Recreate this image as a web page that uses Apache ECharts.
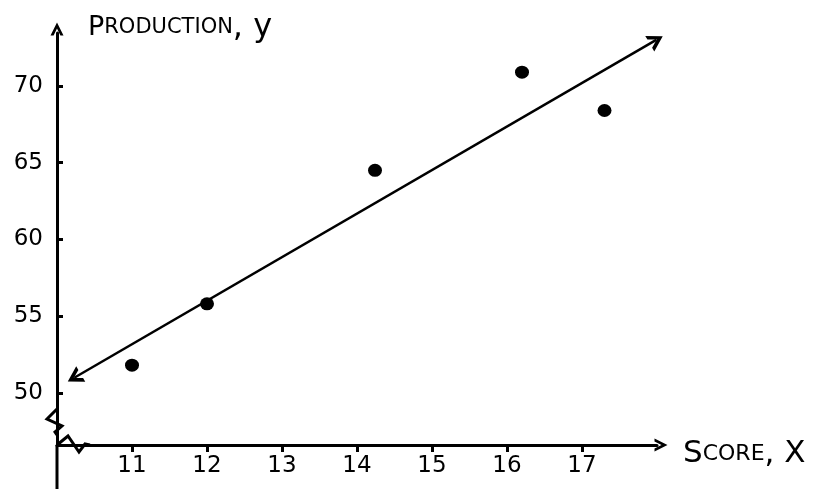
<!DOCTYPE html>
<html><head><meta charset="utf-8">
<script src="https://cdn.jsdelivr.net/npm/echarts@6/dist/echarts.min.js"></script>
<style>html,body{margin:0;padding:0;background:#fff}#c{width:816px;height:489px}</style>
</head><body><div id="c"></div>
<script>
// ---- data ----
const xTicks = [11, 12, 13, 14, 15, 16, 17];
const yTicks = [50, 55, 60, 65, 70];
const scores = [11.0, 12.0, 14.24, 16.2, 17.3];
const production = [51.8, 55.8, 64.5, 70.9, 68.4];
const fitStart = [10.23, 50.98];
const fitEnd = [17.99, 73.0];
const xRange = [10, 18];
const yRange = [46.6, 73.45];

const chevron = 'path://M0,10 L5,0 L10,10 L7.6,10 L5,4.6 L2.4,10 Z';
const FONT = 'DejaVu Sans';

const chart = echarts.init(document.getElementById('c'), null, {renderer: 'canvas'});
chart.setOption({
  backgroundColor: '#fff',
  animation: false,
  grid: {left: 57, top: 33, right: 159, bottom: 44, containLabel: false},
  xAxis: {
    type: 'value', min: xRange[0], max: xRange[1],
    splitLine: {show: false},
    axisLine: {show: true, lineStyle: {color: '#000', width: 3}, symbol: ['none', chevron], symbolSize: [15, 13], symbolOffset: [0, 4]},
    axisTick: {show: true, customValues: xTicks, length: 7, lineStyle: {color: '#000', width: 3}},
    axisLabel: {show: true, customValues: xTicks, margin: 10, color: '#000', fontFamily: FONT, fontSize: 23},
    name: '{b|S}{s|CORE}{b|, X}', nameLocation: 'end', nameGap: 26,
    nameTextStyle: {verticalAlign: 'middle', padding: [18, 0, 0, 0],
      rich: {b: {fontFamily: FONT, fontSize: 31, color: '#000'}, s: {fontFamily: FONT, fontSize: 22, color: '#000'}}}
  },
  yAxis: {
    type: 'value', min: yRange[0], max: yRange[1],
    splitLine: {show: false},
    axisLine: {show: true, lineStyle: {color: '#000', width: 3}, symbol: ['none', chevron], symbolSize: [13, 15], symbolOffset: [0, 4]},
    axisTick: {show: true, inside: true, customValues: yTicks, length: 6, lineStyle: {color: '#000', width: 3}},
    axisLabel: {show: true, customValues: yTicks, margin: 14, color: '#000', fontFamily: FONT, fontSize: 23},
    name: '{p|P}{s|RODUCTION}{y|, y}', nameLocation: 'end', nameGap: -11,
    nameTextStyle: {align: 'left', padding: [0, 0, 0, 31],
      rich: {p: {fontFamily: FONT, fontSize: 27, color: '#000'}, s: {fontFamily: FONT, fontSize: 21, color: '#000'}, y: {fontFamily: FONT, fontSize: 32, color: '#000'}}}
  },
  series: [{
    type: 'scatter',
    data: scores.map((s, i) => [s, production[i]]),
    symbol: 'circle', symbolSize: [14, 13],
    itemStyle: {color: '#000', opacity: 1},
    markLine: {
      silent: true,
      symbol: [chevron, chevron], symbolSize: [18, 15],
      label: {show: false},
      lineStyle: {color: '#000', width: 2.5, type: 'solid', opacity: 1},
      data: [[{coord: fitStart}, {coord: fitEnd}]]
    }
  }]
});

// axis break marks and axis extension (decorations)
const o = chart.convertToPixel({gridIndex: 0}, [xRange[0], yRange[0]]);
const cx = o[0], cy = o[1];
chart.setOption({
  graphic: [
    {type: 'line', shape: {x1: cx, y1: cy, x2: cx, y2: 489}, style: {stroke: '#000', lineWidth: 3}},
    {type: 'rect', shape: {x: cx - 3, y: cy - 34, width: 6, height: 21}, style: {fill: '#fff'}},
    {type: 'rect', shape: {x: cx + 2, y: cy - 3, width: 28, height: 6}, style: {fill: '#fff'}},
    {type: 'polyline', shape: {points: [[cx, cy - 36], [cx - 10, cy - 26], [cx + 5, cy - 19], [cx - 2, cy - 13], [cx, cy - 10]]},
      style: {stroke: '#000', lineWidth: 3, fill: null, lineJoin: 'miter'}},
    {type: 'polyline', shape: {points: [[cx, cy], [cx + 11, cy - 9], [cx + 22, cy + 7], [cx + 28, cy - 1], [cx + 33, cy]]},
      style: {stroke: '#000', lineWidth: 3, fill: null, lineJoin: 'miter'}}
  ]
});
</script>
</body></html>
